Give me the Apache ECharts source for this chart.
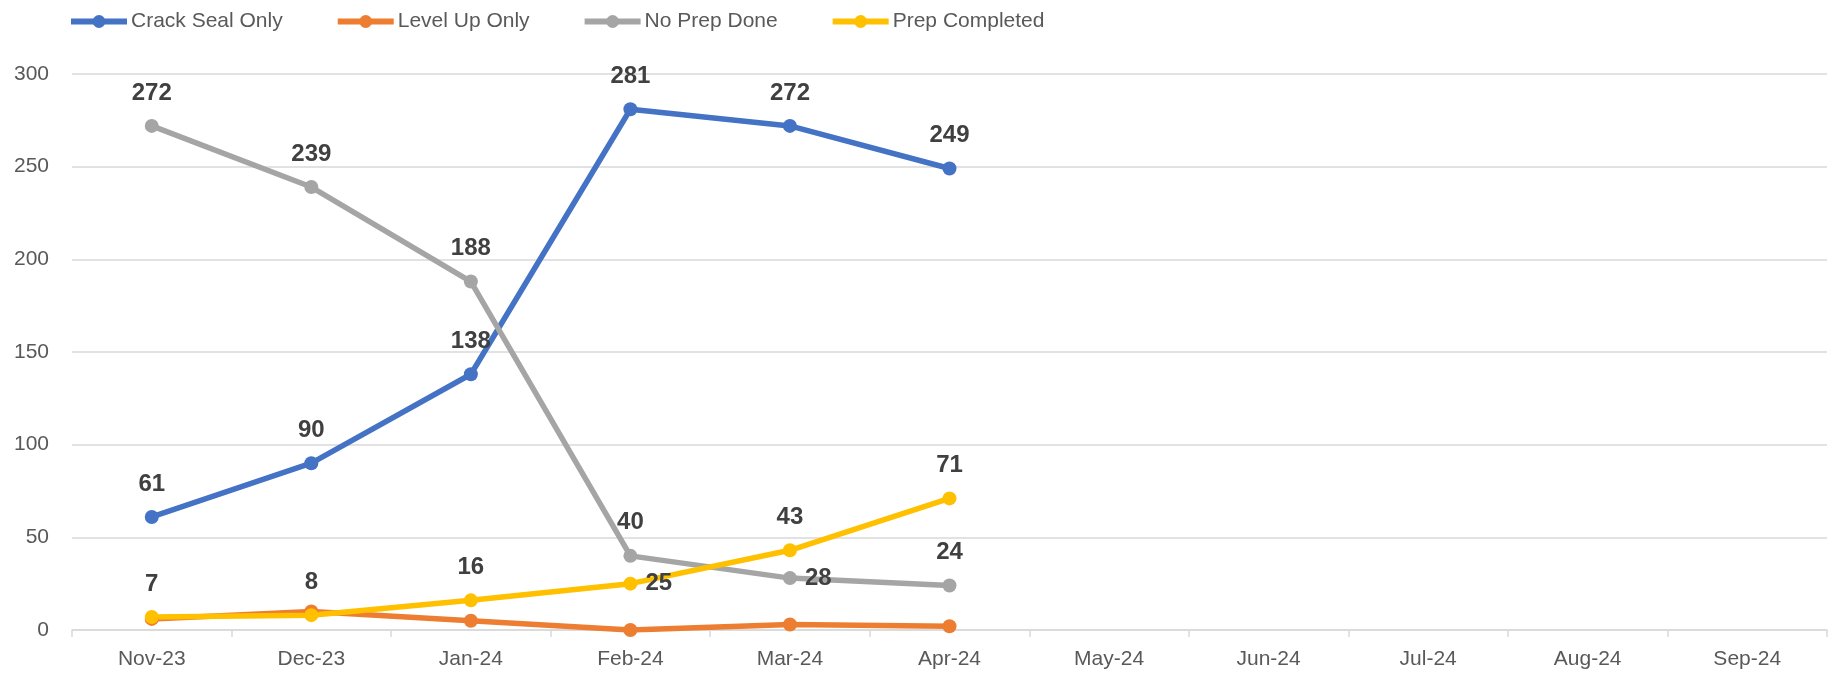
<!DOCTYPE html>
<html>
<head>
<meta charset="utf-8">
<script src="https://cdn.jsdelivr.net/npm/echarts@6/dist/echarts.min.js"></script>
<style>
html,body{margin:0;padding:0;background:#fff;}
#chart{width:1839px;height:683px;}
</style>
</head>
<body>
<div id="chart"></div>
<script>
const categories = ['Nov-23','Dec-23','Jan-24','Feb-24','Mar-24','Apr-24','May-24','Jun-24','Jul-24','Aug-24','Sep-24'];
const crackSealOnly = [61, 90, 138, 281, 272, 249];
const levelUpOnly = [6, 10, 5, 0, 3, 2];
const noPrepDone = [272, 239, 188, 40, 28, 24];
const prepCompleted = [7, 8, 16, 25, 43, 71];
const yTicks = [0, 50, 100, 150, 200, 250, 300];

const FONT = '"Liberation Sans", Arial, sans-serif';
const labelStyle = {
  show: true, position: 'top', distance: 14,
  color: '#404040', fontWeight: 'bold', fontSize: 24, fontFamily: FONT
};

function mk(name, data, color, showLabels, rightIdx) {
  return {
    name: name, type: 'line',
    data: data.map((v, i) => {
      const d = { value: v };
      if (rightIdx && rightIdx.indexOf(i) >= 0) {
        d.label = { position: 'right', distance: 8, offset: [0, 0] };
      }
      return d;
    }),
    symbol: 'circle', symbolSize: 14,
    lineStyle: { color: color, width: 5.5 },
    itemStyle: { color: color },
    label: showLabels ? labelStyle : { show: false },
    emphasis: { disabled: true },
    animation: false,
    z: 2
  };
}

const chart = echarts.init(document.getElementById('chart'));
chart.setOption({
  backgroundColor: '#fff',
  animation: false,
  legend: {
    left: 63, top: 6,
    itemWidth: 56, itemHeight: 16, itemGap: 52,
    lineStyle: { width: 6 },
    textStyle: { color: '#595959', fontSize: 21, fontFamily: FONT, padding: [0, 0, 0, -1] },
    data: ['Crack Seal Only', 'Level Up Only', 'No Prep Done', 'Prep Completed']
  },
  grid: { left: 72, right: 12, top: 74, bottom: 53 },
  xAxis: {
    type: 'category', data: categories, boundaryGap: true,
    axisLine: { lineStyle: { color: '#d9d9d9', width: 1.5 } },
    axisTick: { show: true, inside: false, length: 7, lineStyle: { color: '#d9d9d9', width: 1.5 } },
    axisLabel: { color: '#595959', fontSize: 21, fontFamily: FONT, margin: 19 },
    splitLine: { show: false }
  },
  yAxis: {
    type: 'value', min: yTicks[0], max: yTicks[yTicks.length - 1], interval: 50,
    axisLine: { show: false }, axisTick: { show: false },
    axisLabel: { color: '#595959', fontSize: 21, fontFamily: FONT, margin: 23 },
    splitLine: { lineStyle: { color: '#d9d9d9', width: 1.5 } }
  },
  series: [
    mk('Crack Seal Only', crackSealOnly, '#4472C4', true),
    mk('Level Up Only', levelUpOnly, '#ED7D31', false),
    mk('No Prep Done', noPrepDone, '#A5A5A5', true, [4]),
    mk('Prep Completed', prepCompleted, '#FFC000', true, [3])
  ]
});
</script>
</body>
</html>
